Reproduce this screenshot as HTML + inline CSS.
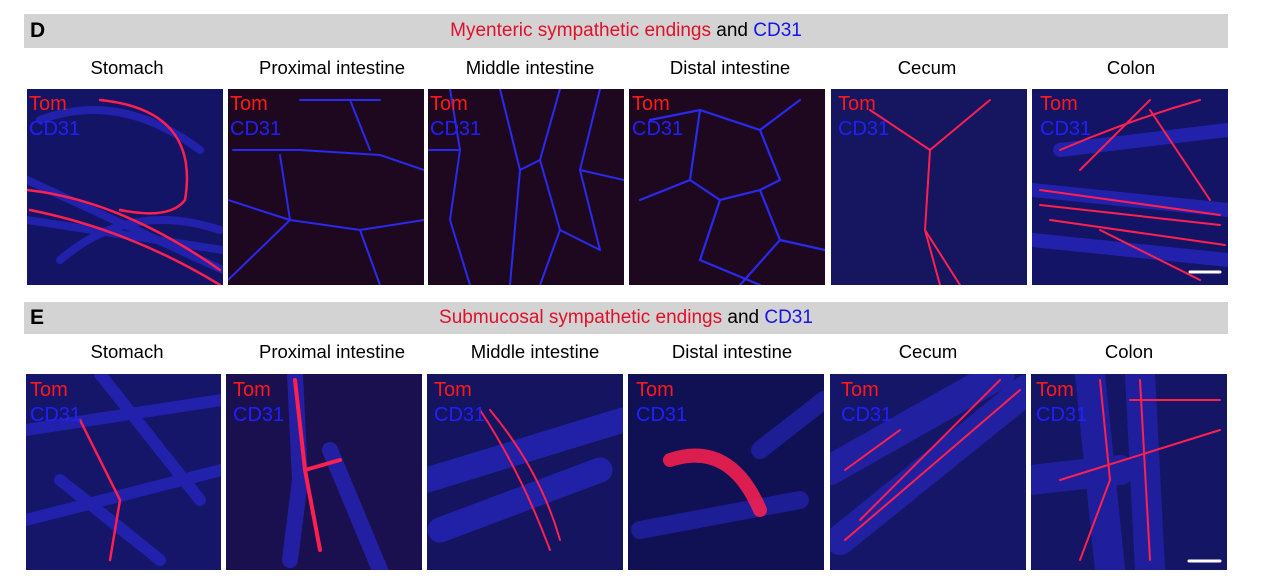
<!DOCTYPE html><html><head><style>
body{margin:0;width:1269px;height:583px;background:#fff;position:relative;font-family:"Liberation Sans",sans-serif;overflow:hidden}
.bar{position:absolute;left:24px;width:1204px;background:#d3d3d3;font-size:19px;text-align:center}
.bar b{position:absolute;left:6px;font-size:21px;color:#000}
.lab{position:absolute;font-size:18.5px;width:200px;text-align:center;color:#000}
svg{position:absolute;left:0;top:0}
.r{color:#e0102a}.bl{color:#1515e8}
</style></head><body>
<div class="bar" style="top:14px;height:34px;line-height:34px"><b>D</b><span class="r">Myenteric sympathetic endings</span> and <span class="bl">CD31</span></div>
<div class="bar" style="top:302px;height:32px;line-height:32px"><b>E</b><span class="r">Submucosal sympathetic endings</span> and <span class="bl">CD31</span></div>
<div class="lab" style="left:27px;top:57px">Stomach</div>
<div class="lab" style="left:232px;top:57px">Proximal intestine</div>
<div class="lab" style="left:430px;top:57px">Middle intestine</div>
<div class="lab" style="left:630px;top:57px">Distal intestine</div>
<div class="lab" style="left:827px;top:57px">Cecum</div>
<div class="lab" style="left:1031px;top:57px">Colon</div>
<div class="lab" style="left:27px;top:341px">Stomach</div>
<div class="lab" style="left:232px;top:341px">Proximal intestine</div>
<div class="lab" style="left:435px;top:341px">Middle intestine</div>
<div class="lab" style="left:632px;top:341px">Distal intestine</div>
<div class="lab" style="left:828px;top:341px">Cecum</div>
<div class="lab" style="left:1029px;top:341px">Colon</div>
<svg width="1269" height="583" font-family="Liberation Sans" font-size="20">
<defs>
<clipPath id="d1"><rect x="27" y="89" width="196" height="196"/></clipPath>
<clipPath id="d2"><rect x="228" y="89" width="196" height="196"/></clipPath>
<clipPath id="d3"><rect x="428" y="89" width="196" height="196"/></clipPath>
<clipPath id="d4"><rect x="629" y="89" width="196" height="196"/></clipPath>
<clipPath id="d5"><rect x="831" y="89" width="196" height="196"/></clipPath>
<clipPath id="d6"><rect x="1032" y="89" width="196" height="196"/></clipPath>
<clipPath id="e1"><rect x="26" y="374" width="195" height="196"/></clipPath>
<clipPath id="e2"><rect x="226" y="374" width="196" height="196"/></clipPath>
<clipPath id="e3"><rect x="427" y="374" width="196" height="196"/></clipPath>
<clipPath id="e4"><rect x="628" y="374" width="196" height="196"/></clipPath>
<clipPath id="e5"><rect x="830" y="374" width="196" height="196"/></clipPath>
<clipPath id="e6"><rect x="1031" y="374" width="196" height="196"/></clipPath>
</defs>
<g fill="none" stroke-linecap="round">
<g clip-path="url(#d1)">
<rect x="27" y="89" width="196" height="196" fill="#141466"/>
<path d="M27 220 L223 250 M27 180 L223 270 M40 120 Q120 90 200 150 M60 260 Q130 200 220 230" stroke="#2a2ad8" stroke-width="8" opacity=".6"/>
<path d="M100 100 Q200 110 185 200 Q170 220 120 210 M27 190 Q120 200 220 270 M30 210 Q130 230 220 285" stroke="#ff2050" stroke-width="2.5"/>
</g>
<g clip-path="url(#d2)">
<rect x="228" y="89" width="196" height="196" fill="#1e0820"/>
<path d="M233 150 L300 150 L380 155 L424 170 M280 155 L290 220 L360 230 L424 220 M290 220 L228 280 M360 230 L380 285 M300 100 L380 100 M350 100 L370 150 M228 200 L290 220" stroke="#2a2aee" stroke-width="2"/>
</g>
<g clip-path="url(#d3)">
<rect x="428" y="89" width="196" height="196" fill="#1e0820"/>
<path d="M450 89 L460 150 L450 220 L470 285 M500 89 L520 170 L510 285 M560 89 L540 160 L560 230 L540 285 M600 89 L580 170 L600 250 M428 150 L460 150 M520 170 L540 160 M560 230 L600 250 M580 170 L624 180" stroke="#2a2aee" stroke-width="2"/>
</g>
<g clip-path="url(#d4)">
<rect x="629" y="89" width="196" height="196" fill="#1e0820"/>
<path d="M650 120 L700 110 L760 130 L800 100 M700 110 L690 180 L720 200 L760 190 L780 240 L825 250 M690 180 L640 200 M720 200 L700 260 L760 285 M760 130 L780 180 L760 190 M780 240 L740 285" stroke="#2a2aee" stroke-width="2.2"/>
</g>
<g clip-path="url(#d5)">
<rect x="831" y="89" width="196" height="196" fill="#151560"/>
<path d="M870 110 L930 150 L990 100 M930 150 L925 230 L960 285 M925 230 L940 285" stroke="#ff2050" stroke-width="2"/>
</g>
<g clip-path="url(#d6)">
<rect x="1032" y="89" width="196" height="196" fill="#141466"/>
<path d="M1032 190 L1228 210 M1032 240 L1228 260 M1060 150 L1228 130" stroke="#2a2ad8" stroke-width="14" opacity=".6"/>
<path d="M1040 190 L1220 215 M1040 205 L1220 225 M1050 220 L1225 245 M1060 150 Q1130 120 1200 100 M1080 170 L1150 100 M1100 230 L1200 280 M1150 110 L1210 200" stroke="#ff2050" stroke-width="2"/>
<path d="M1190 272 H1220" stroke="#fff" stroke-width="3"/>
</g>
<g clip-path="url(#e1)">
<rect x="26" y="374" width="195" height="196" fill="#15156a"/>
<path d="M26 430 L221 400 M60 480 L160 560 M26 520 L221 470 M100 374 L200 500" stroke="#2a2ad8" stroke-width="12" opacity=".6"/>
<path d="M80 420 L120 500 L110 560" stroke="#ff2050" stroke-width="2.5"/>
</g>
<g clip-path="url(#e2)">
<rect x="226" y="374" width="196" height="196" fill="#1a1050"/>
<path d="M295 374 L300 480 L290 560 M330 450 L380 570" stroke="#2a2ad8" stroke-width="16" opacity=".6"/>
<path d="M295 380 L305 470 L320 550 M305 470 L340 460" stroke="#ff2050" stroke-width="4"/>
</g>
<g clip-path="url(#e3)">
<rect x="427" y="374" width="196" height="196" fill="#141460"/>
<path d="M427 480 L623 420 M440 530 L600 470" stroke="#2a2ad8" stroke-width="25" opacity=".6"/>
<path d="M480 410 Q520 470 550 550 M490 410 Q540 470 560 540" stroke="#ff2050" stroke-width="2"/>
</g>
<g clip-path="url(#e4)">
<rect x="628" y="374" width="196" height="196" fill="#101055"/>
<path d="M640 530 L800 500 M760 450 L824 400" stroke="#2a2ad8" stroke-width="18" opacity=".5"/>
<path d="M670 460 Q730 440 760 510" stroke="#ff2050" stroke-width="14" opacity=".85"/>
</g>
<g clip-path="url(#e5)">
<rect x="830" y="374" width="196" height="196" fill="#161668"/>
<path d="M840 540 L1026 390 M830 470 L1000 374" stroke="#2a2ad8" stroke-width="30" opacity=".5"/>
<path d="M845 540 L1020 390 M860 520 L1000 380 M845 470 L900 430" stroke="#ff2050" stroke-width="2"/>
</g>
<g clip-path="url(#e6)">
<rect x="1031" y="374" width="196" height="196" fill="#151565"/>
<path d="M1090 374 L1110 570 M1140 374 L1150 570 M1031 480 L1120 470" stroke="#2a2ad8" stroke-width="30" opacity=".5"/>
<path d="M1100 380 L1110 480 L1080 560 M1140 380 L1150 560 M1060 480 L1220 430 M1130 400 L1220 400" stroke="#ff2050" stroke-width="2"/>
<path d="M1189 561 H1220" stroke="#fff" stroke-width="3"/>
</g>
</g>
<g>
<text x="29" y="110" fill="#ff1a1a">Tom</text><text x="29" y="135" fill="#2020ff">CD31</text>
<text x="230" y="110" fill="#ff1a1a">Tom</text><text x="230" y="135" fill="#2020ff">CD31</text>
<text x="430" y="110" fill="#ff1a1a">Tom</text><text x="430" y="135" fill="#2020ff">CD31</text>
<text x="632" y="110" fill="#ff1a1a">Tom</text><text x="632" y="135" fill="#2020ff">CD31</text>
<text x="838" y="110" fill="#ff1a1a">Tom</text><text x="838" y="135" fill="#2020ff">CD31</text>
<text x="1040" y="110" fill="#ff1a1a">Tom</text><text x="1040" y="135" fill="#2020ff">CD31</text>
<text x="30" y="396" fill="#ff1a1a">Tom</text><text x="30" y="421" fill="#2020ff">CD31</text>
<text x="233" y="396" fill="#ff1a1a">Tom</text><text x="233" y="421" fill="#2020ff">CD31</text>
<text x="434" y="396" fill="#ff1a1a">Tom</text><text x="434" y="421" fill="#2020ff">CD31</text>
<text x="636" y="396" fill="#ff1a1a">Tom</text><text x="636" y="421" fill="#2020ff">CD31</text>
<text x="841" y="396" fill="#ff1a1a">Tom</text><text x="841" y="421" fill="#2020ff">CD31</text>
<text x="1036" y="396" fill="#ff1a1a">Tom</text><text x="1036" y="421" fill="#2020ff">CD31</text>
</g>
</svg>
</body></html>
